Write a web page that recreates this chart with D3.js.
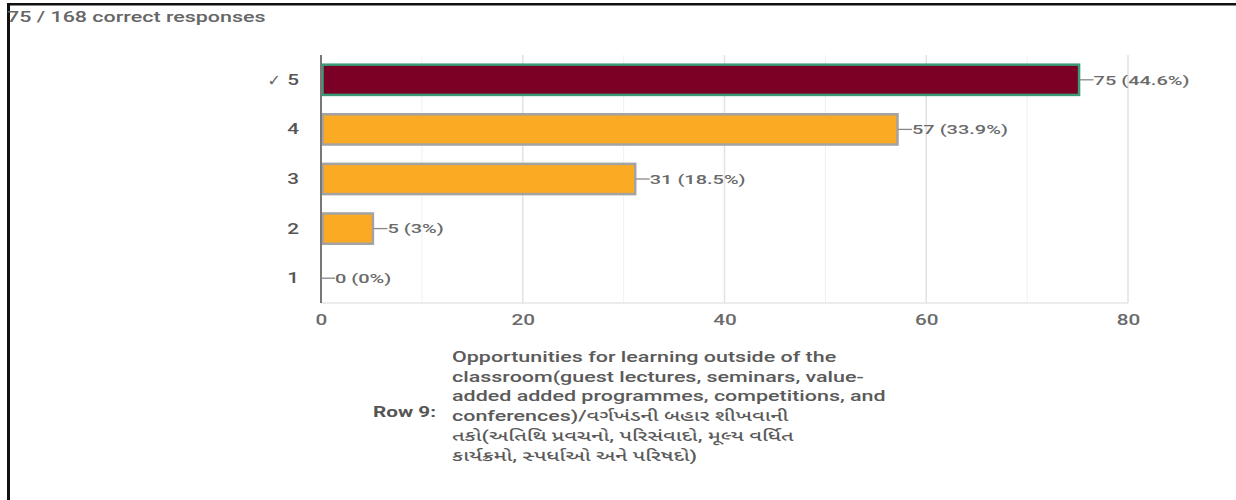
<!DOCTYPE html>
<html><head><meta charset="utf-8">
<script src="https://cdn.jsdelivr.net/npm/d3@7"></script>
<style>
html,body{margin:0;padding:0;background:#fff;}
svg{display:block;font-family:Roboto,"Noto Sans",Arial,sans-serif;}
</style></head>
<body><svg id="c" width="1236" height="500"></svg>
<script>
const categories = ["5", "4", "3", "2", "1"];
const counts = [75, 57, 31, 5, 0];
const percents = ["44.6%", "33.9%", "18.5%", "3%", "0%"];
const correct = ["5"];
const xTicks = [0, 20, 40, 60, 80];
const minorTicks = [10, 30, 50, 70];
const titleText = "75 / 168 correct responses";
const rowLabel = "Row 9:";
const questionLines = [
  "Opportunities for learning outside of the",
  "classroom(guest lectures, seminars, value-",
  "added added programmes, competitions, and",
  "conferences)/વર્ગખંડની બહાર શીખવાની",
  "તકો(અતિથિ પ્રવચનો, પરિસંવાદો, મૂલ્ય વર્ધિત",
  "કાર્યક્રમો, સ્પર્ધાઓ અને પરિષદો)"
];

const STRETCH = 1.48;
function stretch(node){
  const len = node.getComputedTextLength();
  if(len>0){
    node.setAttribute("textLength", (len*STRETCH).toFixed(2));
    node.setAttribute("lengthAdjust","spacingAndGlyphs");
  }
}

const svg = d3.select("#c");
// frame borders
svg.append("rect").attr("x",7).attr("y",3).attr("width",1229).attr("height",2.5).attr("fill","#111");
svg.append("rect").attr("x",7).attr("y",3).attr("width",3).attr("height",497).attr("fill","#111");

const x = d3.scaleLinear().domain([0,80]).range([321,1128]);
const y = d3.scaleBand().domain(categories).range([55,303]).paddingInner(0.35).paddingOuter(0.175);

const g = svg.append("g");
// minor grid
g.selectAll(".mg").data(minorTicks).join("line")
  .attr("x1",d=>x(d)).attr("x2",d=>x(d)).attr("y1",55).attr("y2",303)
  .attr("stroke","#f0f0f0").attr("stroke-width",1);
g.selectAll(".Mg").data(xTicks.slice(1)).join("line")
  .attr("x1",d=>x(d)).attr("x2",d=>x(d)).attr("y1",55).attr("y2",303)
  .attr("stroke","#e2e2e2").attr("stroke-width",1.5);
g.append("line").attr("x1",x(0)).attr("x2",x(80)).attr("y1",303).attr("y2",303)
  .attr("stroke","#e6e6e6").attr("stroke-width",1.5);

// axis ticks
const ax = d3.axisBottom(x).tickValues(xTicks).tickSize(0).tickPadding(12);
const axG = svg.append("g").attr("transform","translate(0,303)").call(ax);
axG.select(".domain").remove();
axG.selectAll("text").attr("font-size",14).attr("font-weight",500).attr("fill","#6a6a6a")
  .attr("font-family","Roboto, 'Noto Sans', Arial, sans-serif")
  .each(function(){stretch(this);});

// bars
const bh = y.bandwidth();
g.selectAll(".bar").data(categories).join("rect")
  .attr("x",x(0)+1.5).attr("y",d=>y(d)+1)
  .attr("width",(d,i)=>Math.max(0,x(counts[i])-x(0)))
  .attr("height",bh-2)
  .attr("fill",d=>correct.includes(d)?"#7a0026":"#fbaa23")
  .attr("stroke",d=>correct.includes(d)?"#3b9a78":"#a3a3a3")
  .attr("stroke-width",2.5)
  .attr("display",(d,i)=>counts[i]>0?null:"none");

// zero axis
g.append("line").attr("x1",x(0)).attr("x2",x(0)).attr("y1",55).attr("y2",303)
  .attr("stroke","#777").attr("stroke-width",2);

// value labels
categories.forEach((c,i)=>{
  const cy = y(c)+bh/2;
  const x0 = x(counts[i]) + (counts[i]>0?2:0);
  g.append("line").attr("x1",x0).attr("x2",x0+14).attr("y1",cy).attr("y2",cy)
    .attr("stroke","#888").attr("stroke-width",1.3);
  const t = g.append("text").attr("x",x0+14).attr("y",cy).attr("dy","0.35em")
    .attr("font-size",13.5).attr("font-weight",500).attr("fill","#6a6a6a")
    .text(counts[i]+" ("+percents[i]+")");
  stretch(t.node());
});

// category labels
categories.forEach(c=>{
  const t = g.append("text").attr("x",299).attr("y",y(c)+bh/2).attr("dy","0.35em")
    .attr("text-anchor","end").attr("font-size",14).attr("font-weight",500).attr("fill","#555")
    .text(c);
  stretch(t.node());
  if(correct.includes(c)){
    g.append("text").attr("x",281).attr("y",y(c)+bh/2).attr("dy","0.38em")
      .attr("text-anchor","end").attr("font-size",16).attr("fill","#666")
      .attr("font-family","'DejaVu Sans',sans-serif").text("\u2713");
  }
});

// title
const tt = svg.append("text").attr("x",7).attr("y",22).attr("font-size",14.5).attr("font-weight",500)
  .attr("fill","#666").text(titleText);
stretch(tt.node());

// question
const rl = svg.append("text").attr("x",373).attr("y",417).attr("font-size",14).attr("font-weight",700)
  .attr("fill","#555").text(rowLabel);
stretch(rl.node());
const q = svg.append("text").attr("font-size",14.5).attr("fill","#5a5a5a").attr("font-weight",500)
  .attr("font-family","Roboto,'Noto Sans','Noto Sans Gujarati',sans-serif");
questionLines.forEach((l,i)=>{
  const ts = q.append("tspan").attr("x",452).attr("y",362+i*19.7).text(l);
  stretch(ts.node());
});
</script></body></html>
